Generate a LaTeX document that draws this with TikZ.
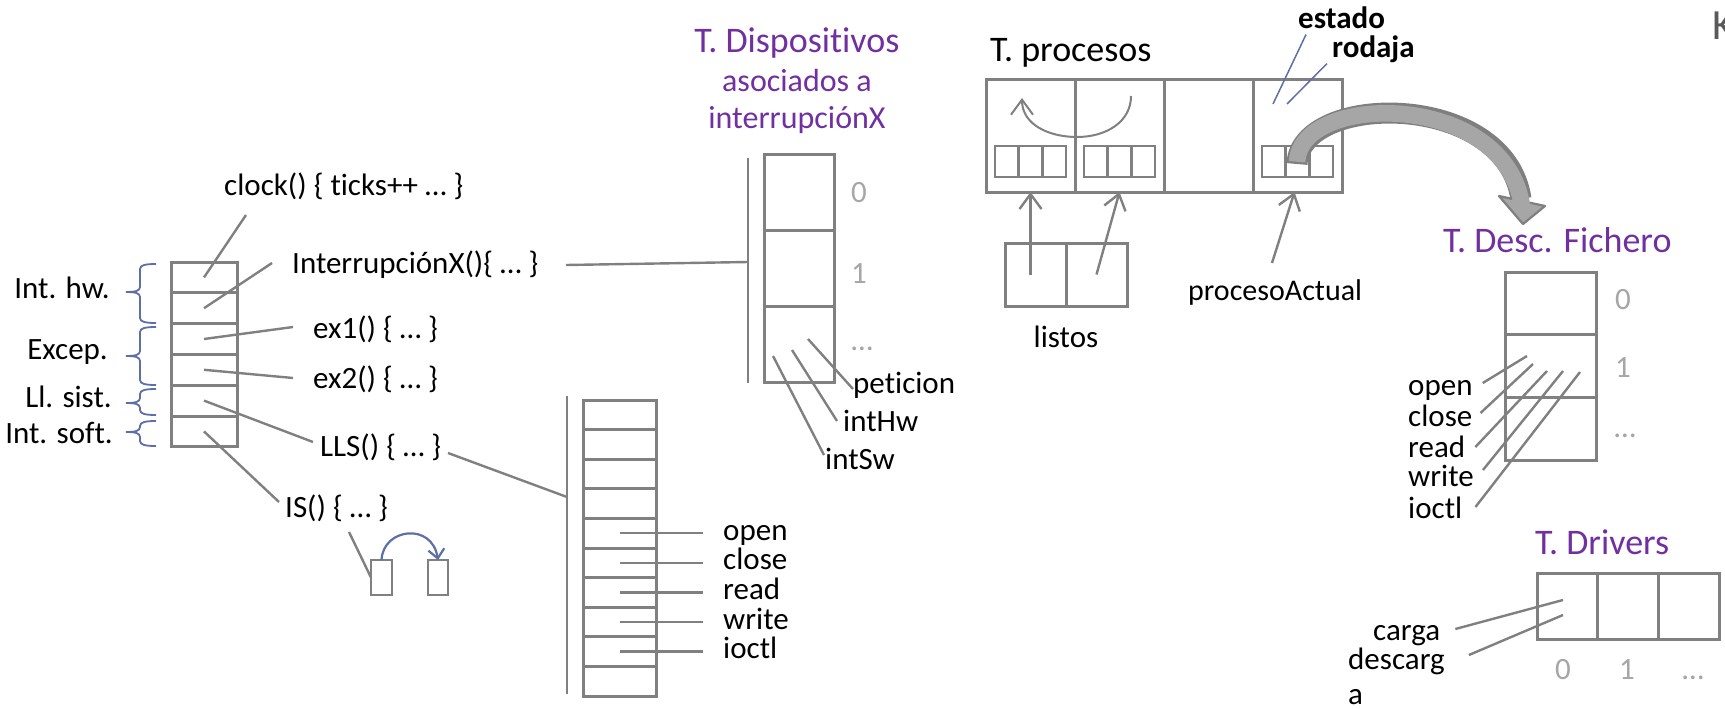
\documentclass[tikz,border=0pt]{standalone}
\usepackage{fontspec}
\setmainfont{Carlito}[Ligatures=NoCommon]
\usetikzlibrary{arrows.meta}

\definecolor{linegray}{HTML}{808080}
\definecolor{idxgray}{HTML}{A6A6A6}
\definecolor{titlepurple}{HTML}{7030A0}
\definecolor{bracecol}{HTML}{5E6EA6}
\definecolor{arrowfill}{HTML}{A6A6A6}
\definecolor{arrowedge}{HTML}{7F7F7F}
\definecolor{kgray}{HTML}{595959}

\tikzset{
  cell/.style={draw=linegray, line width=3pt, inner sep=0pt, outer sep=0pt},
  smallcell/.style={draw=linegray, line width=2.6pt, inner sep=0pt, outer sep=0pt,
                    minimum width=23.7pt, minimum height=31pt},
  conn/.style={draw=linegray, line width=2.4pt},
  lbl/.style={font=\fontsize{31}{37}\selectfont, inner sep=0pt, text height=20.5pt, text depth=6.2pt},
  boldlbl/.style={lbl, font=\fontsize{31}{37}\selectfont\bfseries},
  ttl/.style={font=\fontsize{36}{43}\selectfont, text=titlepurple, inner sep=0pt,
              text height=23.8pt, text depth=7.2pt},
  sub/.style={font=\fontsize{32}{38}\selectfont, text=titlepurple, inner sep=0pt,
              text height=21.1pt, text depth=6.4pt},
  idx/.style={lbl, text=idxgray},
  brc/.style={draw=bracecol, line width=1.8pt},
  barb/.style={-{Straight Barb[length=15pt,width=22pt]}},
  smallbarb/.style={-{Straight Barb[length=9pt,width=16pt]}},
}

\begin{document}
\begin{tikzpicture}[x=1pt,y=-1pt]
\useasboundingbox (0,0) rectangle (1725,709);

% ---------------- interrupt vector
\foreach \i in {1,...,6}
  \node[cell, minimum width=66pt, minimum height=30.8pt] (v\i) at (204,{262+30.8*(\i-0.5)}) {};

% braces grouping the vector entries
\foreach \t/\m/\b in {264/292/323, 327/356/385, 389/403/415, 421/432/446}
  \draw[brc] (156,\t) .. controls (146,\t) and (140,\t+1) .. (140,\t+5)
     -- (140,\m-5) .. controls (140,\m-1) and (135,\m) .. (126,\m)
     .. controls (135,\m) and (140,\m+1) .. (140,\m+5)
     -- (140,\b-5) .. controls (140,\b-1) and (146,\b) .. (156,\b);

\node[lbl, anchor=east] (lhw)   at (110,291) {Int. hw.};
\node[lbl, anchor=east] (lexc)  at (108,352) {Excep.};
\node[lbl, anchor=east] (lsis)  at (112,400) {Ll. sist.};
\node[lbl, anchor=east] (lsoft) at (113,436) {Int. soft.};

% handlers
\node[lbl, anchor=west] (clk)  at (224,188) {clock() \{ ticks++ … \}};
\node[lbl, anchor=west] (irqx) at (292,266) {InterrupciónX()\{ … \}};
\node[lbl, anchor=west] (ex1)  at (313,331) {ex1() \{ … \}};
\node[lbl, anchor=west] (ex2)  at (313,381) {ex2() \{ … \}};
\node[lbl, anchor=west] (lls)  at (320,449) {LLS() \{ … \}};
\node[lbl, anchor=west] (is)   at (285,510) {IS() \{ … \}};

\coordinate (clkp) at (246,215);
\coordinate (irqp) at (272,263);
\coordinate (ex1p) at (293,327);
\coordinate (ex2p) at (293,378);
\coordinate (llsp) at (313,442);
\coordinate (isp)  at (279,502);
\draw[conn] (clkp) -- (v1.center);
\draw[conn] (irqp) -- (v2.center);
\draw[conn] (ex1p) -- (v3.center);
\draw[conn] (ex2p) -- (v4.center);
\draw[conn] (llsp) -- (v5.center);
\draw[conn] (isp)  -- (v6.center);

% soft interrupt: two small blocks
\node[cell, line width=2.6pt, minimum width=21pt, minimum height=35pt] (isb1) at (381.5,577.5) {};
\node[cell, line width=2.6pt, minimum width=20pt, minimum height=35pt] (isb2) at (438,577.5) {};
\coordinate (isq) at (349,532);
\draw[conn] (isq) -- (isb1.west);
\draw[draw=bracecol, line width=2.2pt, smallbarb]
  (isb1.north) .. controls (383,528) and (432,522) .. (isb2.north);

% ---------------- system call table
\foreach \i in {1,...,10}
  \node[cell, minimum width=73pt, minimum height=29.6pt] (s\i) at (619.5,{400+29.6*(\i-0.5)}) {};
\coordinate (sysbarT) at (567,396);
\coordinate (sysbarB) at (567,694);
\coordinate (sysbarM) at (567,497);
\coordinate (llsq) at (448,453);
\draw[conn] (sysbarT) -- (sysbarB);
\draw[conn] (llsq) -- (sysbarM);
\foreach \i/\t in {5/open,6/close,7/read,8/write,9/ioctl}{
  \node[lbl, anchor=west] (sl\i) at (723,{400+29.6*(\i-0.5)}) {\t};
  \draw[conn] (s\i.center) -- ([xshift=-20pt]sl\i.west);
}

% ---------------- device table
\node[ttl] (devttl)  at (797,44)  {T. Dispositivos};
\node[sub] (devsub1) at (797,84)  {asociados a};
\node[sub] (devsub2) at (797,121) {interrupciónX};
\foreach \i in {1,2,3}
  \node[cell, minimum width=70pt, minimum height=76.3pt] (d\i) at (799,{154+76.3*(\i-0.5)}) {};
\node[idx] (dn0) at (859,195) {0};
\node[idx] (dn1) at (859,276) {1};
\node[idx] (dn2) at (862,343) {…};
\coordinate (devbarT) at (748,158);
\coordinate (devbarB) at (748,383);
\coordinate (devbarM) at (748,262);
\coordinate (irqq) at (566,265);
\draw[conn] (devbarT) -- (devbarB);
\draw[conn] (irqq) -- (devbarM);

\node[lbl, anchor=west] (pet) at (853,386) {peticion};
\node[lbl, anchor=west] (ihw) at (843,424) {intHw};
\node[lbl, anchor=west] (isw) at (825,462) {intSw};
\coordinate (petA) at (808,339);  \coordinate (petB) at (853,389);
\coordinate (ihwA) at (792,350);  \coordinate (ihwB) at (837,421);
\coordinate (iswA) at (773,356);  \coordinate (iswB) at (824,455);
\draw[conn] (petA) -- (petB);
\draw[conn] (ihwA) -- (ihwB);
\draw[conn] (iswA) -- (iswB);

% ---------------- process table
\node[lbl, font=\fontsize{36}{43}\selectfont, text height=23.8pt, text depth=7.2pt, anchor=west]
  (proc) at (990,53) {T. procesos};
\foreach \i in {1,...,4}
  \node[cell, minimum width=89pt, minimum height=112pt] (p\i) at ({986+89*(\i-0.5)},136) {};
\foreach \j in {1,2,4}
  \foreach \k in {1,2,3}
    \node[smallcell] (q\j\k) at ({986+89*(\j-0.5)+23.7*(\k-2)},161.5) {};

\coordinate (rrA) at (1131,96);
\coordinate (rrM) at (1077,137);
\coordinate (rrB) at (1022,98);
\draw[draw=linegray, line width=2pt, barb]
  (rrA) .. controls (1131,122) and (1106,137) .. (rrM)
  .. controls (1048,137) and (1022,124) .. (rrB);

\node[cell, minimum width=61pt, minimum height=63pt] (ls1) at (1035.5,274.5) {};
\node[cell, minimum width=61pt, minimum height=63pt] (ls2) at (1096.5,274.5) {};
\node[lbl] (lst) at (1066,340) {listos};
\draw[conn, barb] (ls1.center -| p1.south) -- (p1.south);
\draw[conn, barb] (ls2.center) -- (p2.south);

\node[lbl, font=\fontsize{30}{36}\selectfont, anchor=west] (pact) at (1188,293) {procesoActual};
\coordinate (pactA) at (1272,263);
\draw[conn, barb] (pactA) -- ([xshift=-3pt]p4.south);

\node[boldlbl, anchor=west] (est) at (1298,21) {estado};
\node[boldlbl, anchor=west] (rod) at (1332,50) {rodaja};
\coordinate (estB) at (1273,104);
\coordinate (rodB) at (1287,104);
\draw[draw=bracecol, line width=1.5pt] ([xshift=8pt]est.south west) -- (estB);
\draw[draw=bracecol, line width=1.5pt] ([xshift=-5pt]rod.south west) -- (rodB);

% ---------------- file descriptor table
\node[ttl, anchor=west] (fdt) at (1443,244) {T. Desc. Fichero};
\foreach \i in {1,2,3}
  \node[cell, minimum width=91pt, minimum height=62.7pt] (f\i) at (1550.5,{272+62.7*(\i-0.5)}) {};
\node[idx] (fn0) at (1623,302) {0};
\node[idx] (fn1) at (1623,370) {1};
\node[idx] (fn2) at (1625,430) {…};
\foreach \i/\t/\y in {1/open/388,2/close/419,3/read/450,4/write/479,5/ioctl/511}
  \node[lbl, anchor=west] (fl\i) at (1408,\y) {\t};
\coordinate (fe1) at (1527,356);
\coordinate (fe2) at (1533,364);
\coordinate (fe3) at (1547,371);
\coordinate (fe4) at (1563,371);
\coordinate (fe5) at (1580,372);
\draw[conn] ([xshift=10pt,yshift=5pt]fl1.east) -- (fe1);
\draw[conn] ([xshift=8pt,yshift=6pt]fl2.east) -- (fe2);
\draw[conn] ([xshift=10pt,yshift=3pt]fl3.east) -- (fe3);
\draw[conn] ([xshift=9pt,yshift=9pt]fl4.east) -- (fe4);
\draw[conn] ([xshift=13pt,yshift=4pt]fl5.east) -- (fe5);

% ---------------- driver table
\node[ttl, anchor=west] (drt) at (1535,546) {T. Drivers};
\foreach \i in {1,2,3}
  \node[cell, minimum width=60.7pt, minimum height=66pt] (dr\i) at ({1537+60.7*(\i-0.5)},606) {};
\node[idx] (rn0) at (1563,672) {0};
\node[idx] (rn1) at (1627,672) {1};
\node[idx] (rn2) at (1693,672) {…};
\node[lbl, anchor=west] (crg) at (1373,633) {carga};
\node[lbl, anchor=west] (dsc) at (1348,662) {descarg};
\node[lbl, anchor=west, text depth=0pt] (dsa) at (1348,694) {a};
\coordinate (crgB) at (1563,600);
\coordinate (dscB) at (1563,615);
\draw[conn] ([xshift=15pt,yshift=4pt]crg.east) -- (crgB);
\draw[conn] ([xshift=24pt,yshift=7pt]dsc.east) -- (dscB);

% ---------------- current process -> its file descriptor table
\coordinate (baS) at (1297,164);
\coordinate (baE) at (1521,199);
\coordinate (baF) at (1522,206);
\draw[draw=arrowedge, line width=21pt] (baS) .. controls (1300,92) and (1505,90) .. (baE);
\filldraw[fill=arrowfill, draw=arrowedge, line width=2.2pt, line join=round]
  (1499,196) -- (1523,224) -- (1545,206) -- cycle;
\draw[draw=arrowfill, line width=16.6pt, shorten <=2.2pt] (baS) .. controls (1300,92) and (1505,90) .. (baF);

\node[font=\fontsize{43}{50}\selectfont, text=kgray, inner sep=0pt, anchor=base west] (kk) at (1712,40) {K};
\end{tikzpicture}
\end{document}
